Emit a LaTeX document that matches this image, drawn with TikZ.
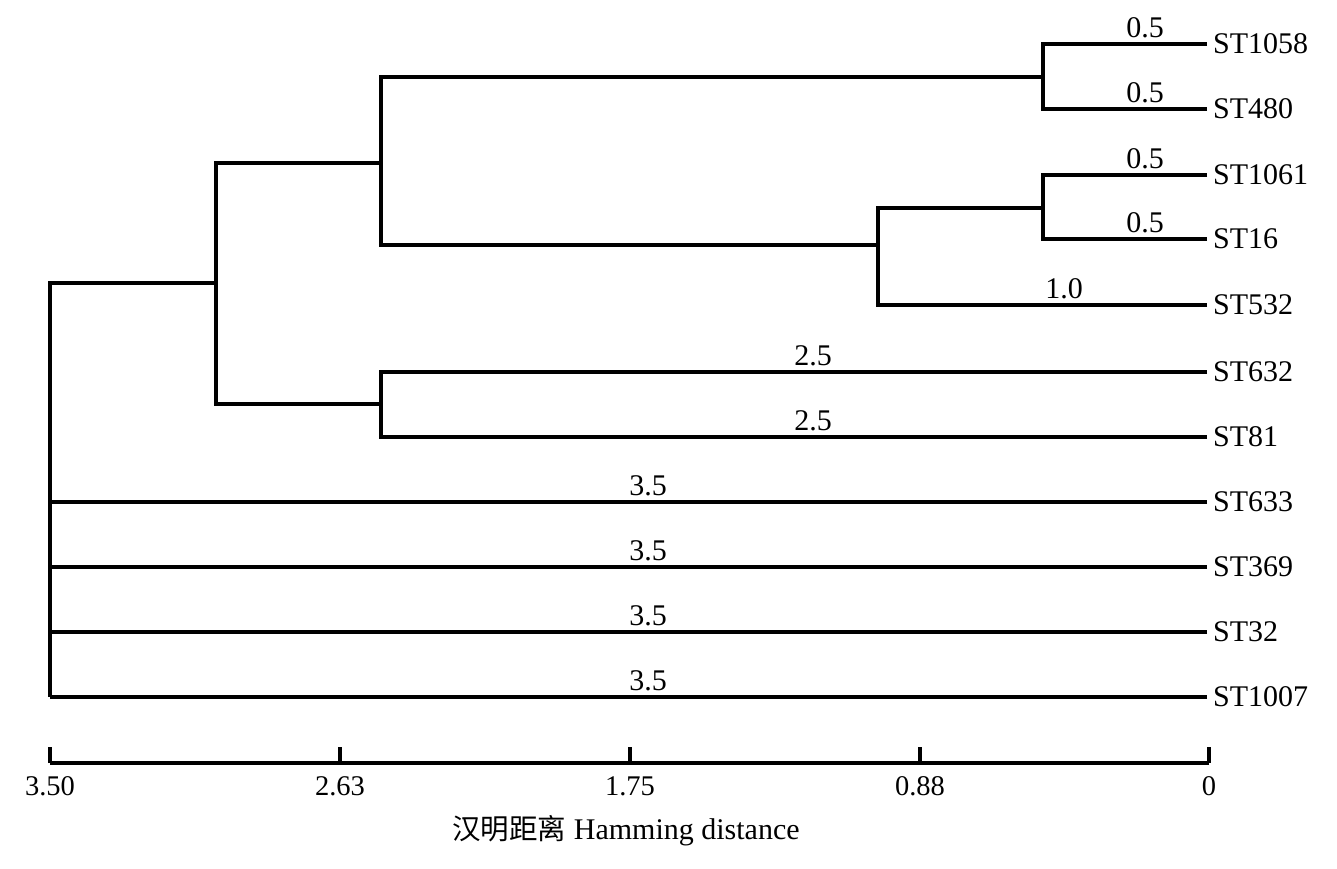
\documentclass[tikz,border=0pt]{standalone}
\usepackage{fontspec}
\setmainfont{Liberation Serif}
\newfontfamily\cjkfont{Noto Sans CJK SC}[Scale=0.95]
\begin{document}
\begin{tikzpicture}[x=1pt,y=-1pt,
  branch/.style={line width=3.2pt, line join=miter},
  leaf/.style={anchor=west, inner xsep=6pt, inner ysep=3pt, font=\fontsize{30}{34}\selectfont},
  blen/.style={anchor=south, inner sep=0pt, font=\fontsize{30}{34}\selectfont},
  ticklab/.style={anchor=north, inner sep=0pt, font=\fontsize{28.5}{32}\selectfont},
]
\useasboundingbox (0,0) rectangle (1337,868);
% leaves
\node[leaf] (l1058) at (1207,44) {ST1058};
\node[leaf] (l480)  at (1207,109) {ST480};
\node[leaf] (l1061) at (1207,175) {ST1061};
\node[leaf] (l16)   at (1207,239) {ST16};
\node[leaf] (l532)  at (1207,305) {ST532};
\node[leaf] (l632)  at (1207,372) {ST632};
\node[leaf] (l81)   at (1207,437) {ST81};
\node[leaf] (l633)  at (1207,502) {ST633};
\node[leaf] (l369)  at (1207,567) {ST369};
\node[leaf] (l32)   at (1207,632) {ST32};
\node[leaf] (l1007) at (1207,697) {ST1007};
% internal joins
\coordinate (j1) at (1043,77);
\coordinate (j2) at (1043,208);
\coordinate (j3) at (878,245);
\coordinate (j4) at (381,163);
\coordinate (j5) at (381,404);
\coordinate (j6) at (216,283);
\coordinate (r)  at (50,697);
% branches
\draw[branch] (l1058.west) -| (j1);
\draw[branch] (l480.west) -| (j1);
\draw[branch] (l1061.west) -| (j2);
\draw[branch] (l16.west) -| (j2);
\draw[branch] (j2) -| (j3);
\draw[branch] (l532.west) -| (j3);
\draw[branch] (j1) -| (j4);
\draw[branch] (j3) -| (j4);
\draw[branch] (l632.west) -| (j5);
\draw[branch] (l81.west) -| (j5);
\draw[branch] (j4) -| (j6);
\draw[branch] (j5) -| (j6);
\draw[branch] (j6) -| (r);
\draw[branch] (l633.west) -- (r |- l633.west);
\draw[branch] (l369.west) -- (r |- l369.west);
\draw[branch] (l32.west) -- (r |- l32.west);
\draw[branch] (l1007.west) -- (r);
% branch length labels
\node[blen] (b1058) at (1145,38) {0.5};
\node[blen] (b480)  at (1145,103) {0.5};
\node[blen] (b1061) at (1145,169) {0.5};
\node[blen] (b16)   at (1145,233) {0.5};
\node[blen] (b532)  at (1064,299) {1.0};
\node[blen] (b632)  at (813,366) {2.5};
\node[blen] (b81)   at (813,431) {2.5};
\node[blen] (b633)  at (648,496) {3.5};
\node[blen] (b369)  at (648,561) {3.5};
\node[blen] (b32)   at (648,626) {3.5};
\node[blen] (b1007) at (648,691) {3.5};
% axis
\coordinate (a0) at (50,763);
\coordinate (a4) at (1209,763);
\draw[branch] (a0) -- (a4);
\foreach \x/\lab [count=\i] in {50/3.50,340/2.63,630/1.75,920/0.88,1209/0} {
  \draw[branch] (\x,763) -- (\x,747);
  \node[ticklab] (t\i) at (\x,776) {\lab};
}
\node[inner sep=0pt, font=\fontsize{30}{34}\selectfont] (title) at (626,831) {{\cjkfont 汉明距离} Hamming distance};
\end{tikzpicture}
\end{document}
